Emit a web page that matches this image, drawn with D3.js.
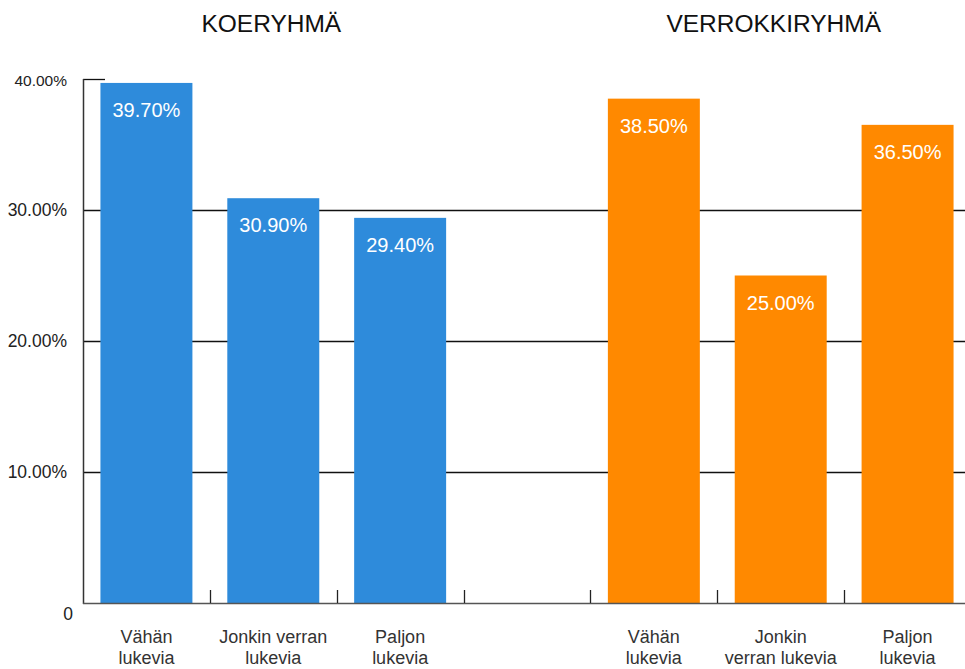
<!DOCTYPE html>
<html>
  <head>
    <meta charset='utf-8'>
    <script src='https://d3js.org/d3.v7.min.js'></script>
    <style>
      body, html { margin: 0; padding: 0; background: #fff; }
      svg { display: block; font-family: 'Liberation Sans', Arial, sans-serif; }
    </style>
  </head>
  <body>
    <svg width='965' height='669'></svg>
    <script>
      // data
      const groups = ['KOERYHMÄ', 'VERROKKIRYHMÄ']
      const koeLabels = [['Vähän', 'lukevia'], ['Jonkin verran', 'lukevia'], ['Paljon', 'lukevia']]
      const verrokkiLabels = [['Vähän', 'lukevia'], ['Jonkin', 'verran lukevia'], ['Paljon', 'lukevia']]
      const koeValues = [39.7, 30.9, 29.4]
      const verrokkiValues = [38.5, 25.0, 36.5]
      const yTicks = [0, 10, 20, 30, 40]
      const groupColors = ['#2e8bdb', '#ff8900']

      // 7 slots: 3 bars, an empty gap, 3 bars
      const slots = ['k0', 'k1', 'k2', 'gap', 'v0', 'v1', 'v2']
      const bars = koeValues.map((v, i) => ({slot: 'k' + i, value: v, group: 0, label: koeLabels[i]}))
        .concat(verrokkiValues.map((v, i) => ({slot: 'v' + i, value: v, group: 1, label: verrokkiLabels[i]})))

      const svg = d3.select('svg')
      const plotLeft = 83, plotRight = 971, plotBase = 603, plotTop = 79

      const x = d3.scaleBand().domain(slots).range([plotLeft, plotRight]).paddingInner(0.275).paddingOuter(0.1375)
      const y = d3.scaleLinear().domain([0, 40]).range([plotBase, plotTop])
      const half = (x.step() - x.bandwidth()) / 2

      // gridlines (top one is just a short tick)
      svg.append('g').selectAll('line')
        .data(yTicks.filter(d => d > 0))
        .join('line')
          .attr('x1', plotLeft)
          .attr('x2', d => d === 40 ? plotLeft + 22 : 965)
          .attr('y1', d => Math.round(y(d)) + 0.5)
          .attr('y2', d => Math.round(y(d)) + 0.5)
          .attr('stroke', '#111')
          .attr('stroke-width', 1.3)

      // y labels
      svg.append('g').selectAll('text')
        .data(yTicks)
        .join('text')
          .attr('x', d => d === 0 ? 73 : 67)
          .attr('y', d => d === 0 ? y(d) + 11 : d === 40 ? y(d) + 2 : y(d))
          .attr('dy', '0.35em')
          .attr('text-anchor', 'end')
          .attr('font-size', d => d === 40 ? 15.5 : 17.5)
          .attr('fill', '#222')
          .text(d => d === 0 ? '0' : d3.format('.2f')(d) + '%')

      // bars
      svg.append('g').selectAll('rect')
        .data(bars)
        .join('rect')
          .attr('x', d => x(d.slot))
          .attr('y', d => y(d.value))
          .attr('width', x.bandwidth())
          .attr('height', d => plotBase - y(d.value))
          .attr('fill', d => groupColors[d.group])

      // value labels inside bars
      svg.append('g').selectAll('text')
        .data(bars)
        .join('text')
          .attr('x', d => x(d.slot) + x.bandwidth() / 2)
          .attr('y', d => y(d.value) + 34)
          .attr('text-anchor', 'middle')
          .attr('font-size', 20)
          .attr('fill', '#fff')
          .text(d => d3.format('.2f')(d.value) + '%')

      // axes lines
      svg.append('line')
        .attr('x1', plotLeft + 0.5).attr('x2', plotLeft + 0.5)
        .attr('y1', plotTop).attr('y2', plotBase + 1)
        .attr('stroke', '#333').attr('stroke-width', 1.5)
      svg.append('line')
        .attr('x1', plotLeft).attr('x2', 965)
        .attr('y1', plotBase + 0.5).attr('y2', plotBase + 0.5)
        .attr('stroke', '#555').attr('stroke-width', 1.5)

      // small ticks between bands
      svg.append('g').selectAll('line')
        .data(slots.slice(1))
        .join('line')
          .attr('x1', d => Math.round(x(d) - half) + 0.5)
          .attr('x2', d => Math.round(x(d) - half) + 0.5)
          .attr('y1', plotBase - 13)
          .attr('y2', plotBase)
          .attr('stroke', '#222')
          .attr('stroke-width', 1.3)

      // category labels
      const cat = svg.append('g').selectAll('text')
        .data(bars)
        .join('text')
          .attr('text-anchor', 'middle')
          .attr('font-size', 18)
          .attr('fill', '#333')
      cat.selectAll('tspan')
        .data(d => d.label.map(t => ({t: t, cx: x(d.slot) + x.bandwidth() / 2})))
        .join('tspan')
          .attr('x', d => d.cx)
          .attr('y', (d, i) => 643 + i * 21)
          .text(d => d.t)

      // group titles
      svg.append('g').selectAll('text')
        .data(groups)
        .join('text')
          .attr('x', (d, i) => x(i === 0 ? 'k1' : 'v1') + x.bandwidth() / 2 - (i === 0 ? 2 : 7))
          .attr('y', 32)
          .attr('text-anchor', 'middle')
          .attr('font-size', 24.5)
          .attr('fill', '#111')
          .text(d => d)
    </script>
  </body>
</html>
